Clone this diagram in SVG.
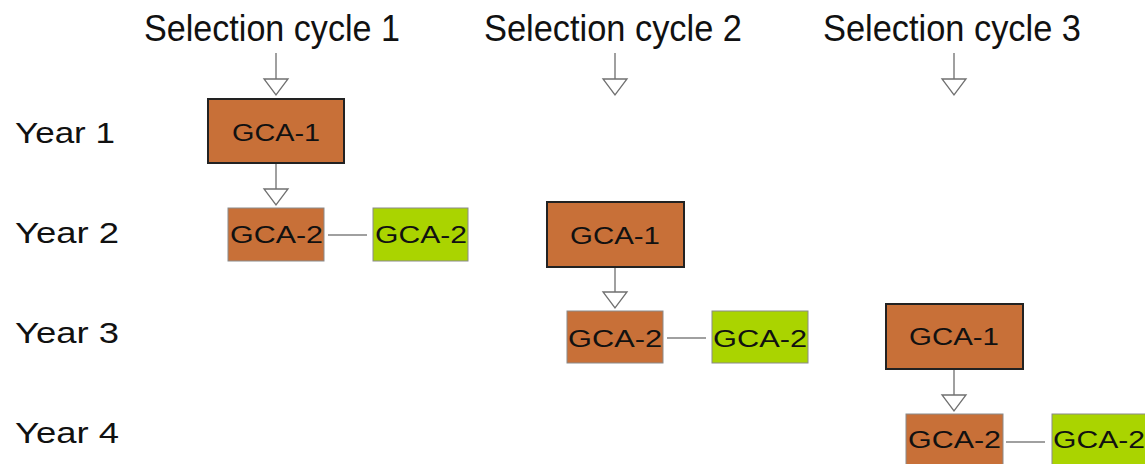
<svg xmlns="http://www.w3.org/2000/svg" width="1145" height="464" viewBox="0 0 1145 464">
  <style>
    .title { font-family: "Liberation Sans", Arial, sans-serif; font-size: 37px; fill: #111; }
    .year { font-family: "Liberation Sans", Arial, sans-serif; font-size: 29px; fill: #111; }
    .lbl { font-family: "Liberation Sans", Arial, sans-serif; font-size: 23px; fill: #111; text-anchor: middle; }
    .main { fill: #C87038; stroke: #222; stroke-width: 2; }
    .sub { fill: #C87038; stroke: #8a8a8a; stroke-width: 1; }
    .alt { fill: #AAD400; stroke: #8a8a8a; stroke-width: 1; }
    .wire { stroke: #808080; stroke-width: 1.5; fill: none; }
    .head { fill: #fff; stroke: #707070; stroke-width: 1.3; }
  </style>
  <defs>
    <!-- open triangular arrowhead, tip at the origin -->
    <polygon id="tri" points="-12,-16 12,-16 0,0"/>
  </defs>
  <rect width="1145" height="464" fill="#fff"/>

  <!-- column headings -->
  <g id="headings">
    <text class="title" x="144" y="41" textLength="256" lengthAdjust="spacingAndGlyphs">Selection cycle 1</text>
    <text class="title" x="484" y="41" textLength="258" lengthAdjust="spacingAndGlyphs">Selection cycle 2</text>
    <text class="title" x="823" y="41" textLength="258" lengthAdjust="spacingAndGlyphs">Selection cycle 3</text>
  </g>

  <!-- row labels -->
  <g id="years">
    <text class="year" x="15" y="143" textLength="100" lengthAdjust="spacingAndGlyphs">Year 1</text>
    <text class="year" x="15" y="243" textLength="104" lengthAdjust="spacingAndGlyphs">Year 2</text>
    <text class="year" x="15" y="343" textLength="104" lengthAdjust="spacingAndGlyphs">Year 3</text>
    <text class="year" x="15" y="443" textLength="104" lengthAdjust="spacingAndGlyphs">Year 4</text>
  </g>

  <!-- connectors -->
  <g id="connectors">
    <line class="wire" x1="276" y1="53" x2="276" y2="79"/>
    <use href="#tri" class="head" transform="translate(276,95)"/>
    <line class="wire" x1="615" y1="53" x2="615" y2="79"/>
    <use href="#tri" class="head" transform="translate(615,95)"/>
    <line class="wire" x1="954" y1="53" x2="954" y2="79"/>
    <use href="#tri" class="head" transform="translate(954,95)"/>

    <line class="wire" x1="276" y1="164" x2="276" y2="189"/>
    <use href="#tri" class="head" transform="translate(276,205)"/>
    <line class="wire" x1="615" y1="268" x2="615" y2="292"/>
    <use href="#tri" class="head" transform="translate(615,308)"/>
    <line class="wire" x1="954" y1="370" x2="954" y2="395"/>
    <use href="#tri" class="head" transform="translate(954,411)"/>

    <line class="wire" x1="328" y1="235" x2="367" y2="235"/>
    <line class="wire" x1="667" y1="338" x2="706" y2="338"/>
    <line class="wire" x1="1006" y1="442" x2="1045" y2="442"/>
  </g>

  <!-- cycle 1 -->
  <g id="c1-gca1">
    <rect class="main" x="208" y="99" width="136" height="64"/>
    <text class="lbl" x="276" y="141" textLength="88" lengthAdjust="spacingAndGlyphs">GCA-1</text>
  </g>
  <g id="c1-gca2a">
    <rect class="sub" x="228" y="208" width="96" height="53"/>
    <text class="lbl" x="276.5" y="243" textLength="93" lengthAdjust="spacingAndGlyphs">GCA-2</text>
  </g>
  <g id="c1-gca2b">
    <rect class="alt" x="373" y="208" width="95" height="53"/>
    <text class="lbl" x="421" y="243" textLength="92" lengthAdjust="spacingAndGlyphs">GCA-2</text>
  </g>

  <!-- cycle 2 -->
  <g id="c2-gca1">
    <rect class="main" x="547" y="202" width="137" height="65"/>
    <text class="lbl" x="615" y="244" textLength="90" lengthAdjust="spacingAndGlyphs">GCA-1</text>
  </g>
  <g id="c2-gca2a">
    <rect class="sub" x="567" y="311" width="96" height="52"/>
    <text class="lbl" x="615" y="347" textLength="94" lengthAdjust="spacingAndGlyphs">GCA-2</text>
  </g>
  <g id="c2-gca2b">
    <rect class="alt" x="712" y="311" width="96" height="52"/>
    <text class="lbl" x="760" y="347" textLength="94" lengthAdjust="spacingAndGlyphs">GCA-2</text>
  </g>

  <!-- cycle 3 -->
  <g id="c3-gca1">
    <rect class="main" x="886" y="304" width="137" height="65"/>
    <text class="lbl" x="954" y="345" textLength="90" lengthAdjust="spacingAndGlyphs">GCA-1</text>
  </g>
  <g id="c3-gca2a">
    <rect class="sub" x="906" y="414" width="97" height="54"/>
    <text class="lbl" x="954.5" y="448" textLength="93" lengthAdjust="spacingAndGlyphs">GCA-2</text>
  </g>
  <g id="c3-gca2b">
    <rect class="alt" x="1052" y="414" width="97" height="54"/>
    <text class="lbl" x="1099" y="448" textLength="92" lengthAdjust="spacingAndGlyphs">GCA-2</text>
  </g>
</svg>
